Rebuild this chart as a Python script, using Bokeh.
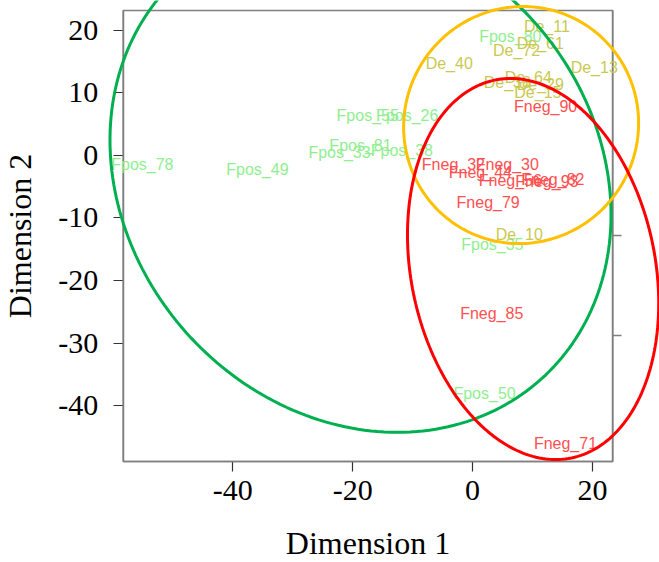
import numpy as np
from bokeh.plotting import figure
from bokeh.models import (Range1d, LinearAxis, FixedTicker, PolyAnnotation,
                          LabelSet, ColumnDataSource, BoxAnnotation)
from bokeh.core.properties import value
from bokeh.embed import file_html
from bokeh.resources import INLINE

# ---- data -----------------------------------------------------------------
fpos_labels = ["Fpos_78", "Fpos_49", "Fpos_33", "Fpos_81", "Fpos_38",
               "Fpos_55", "Fpos_26", "Fpos_80", "Fpos_35", "Fpos_50"]
fpos_x = [-55.1, -35.9, -22.2, -18.7, -11.8, -17.5, -10.9, 6.3, 3.3, 2.0]
fpos_y = [-1.4, -2.2, 0.4, 1.5, 0.85, 6.4, 6.4, 19.0, -14.3, -38.0]

de_labels = ["De_11", "De_61", "De_72", "De_40", "De_13",
             "De_38", "De_64", "De_29", "De_15", "De_10"]
de_x = [12.4, 11.3, 7.35, -3.9, 20.3, 5.8, 9.3, 11.3, 10.9, 7.8]
de_y = [20.6, 17.9, 16.7, 14.6, 14.1, 11.7, 12.5, 11.3, 10.0, -12.6]

fneg_labels = ["Fneg_90", "Fneg_32", "Fneg_30", "Fneg_44", "Fneg_56",
               "Fneg_93", "Fneg_82", "Fneg_79", "Fneg_85", "Fneg_71"]
fneg_x = [12.2, -3.2, 5.8, 1.3, 6.3, 12.4, 13.4, 2.6, 3.2, 15.5]
fneg_y = [7.8, -1.4, -1.4, -2.7, -4.0, -4.2, -3.8, -7.5, -25.2, -46.0]

# ellipse parameters: centre, conjugate semi-diameters (data units)
ell_fpos = dict(cx=-18.7, cy=-3.55, ux=-6.13, uy=40.69, vx=41.35, vy=0.0)
ell_de = dict(cx=8.10, cy=4.84, ux=0.33, uy=18.93, vx=19.6, vy=0.0)
ell_fneg = dict(cx=10.10, cy=-18.16, ux=-3.76, uy=30.43, vx=20.62, vy=0.0)

x_ticks = [-40, -20, 0, 20]
y_ticks = [-40, -30, -20, -10, 0, 10, 20]
right_ticks = [-12.8, -28.8]
x_lim = (-58.3, 23.4)      # plotting box (axes) limits
y_lim = (-48.9, 23.13)
x_view = (-78.77, 31.19)   # whole drawing area
y_view = (-65.03, 24.73)

# ---- styles ---------------------------------------------------------------
C_FPOS_TXT = "#90EE90"
C_DE_TXT = "#C9C94F"
C_FNEG_TXT = "#FF5050"
C_FPOS_ELL = "#00B050"
C_DE_ELL = "#FFC000"
C_FNEG_ELL = "#FF0000"
C_BOX = "#7f7f7f"
SERIF = "Liberation Serif"
SANS = "Liberation Sans"

p = figure(width=659, height=562, output_backend="svg", toolbar_location=None,
           x_range=Range1d(*x_view), y_range=Range1d(*y_view),
           x_axis_location=None, y_axis_location=None,
           min_border_left=0, min_border_right=0, min_border_top=0,
           min_border_bottom=0)
p.grid.visible = False
p.outline_line_color = None


def style_axis(ax, ticks, title):
    ax.ticker = FixedTicker(ticks=ticks)
    ax.major_label_overrides = {t: str(t) for t in ticks}
    ax.minor_tick_line_color = None
    ax.major_tick_out = 10
    ax.major_tick_in = 0
    ax.major_tick_line_color = "#333333"
    ax.major_tick_line_width = 1.2
    ax.axis_line_color = C_BOX
    ax.axis_line_width = 1.5
    ax.major_label_text_font = SERIF
    ax.major_label_text_font_size = "30px"
    ax.major_label_text_color = "black"
    ax.axis_label = title
    ax.axis_label_text_font = SERIF
    ax.axis_label_text_font_size = "32px"
    ax.axis_label_text_font_style = "normal"
    ax.axis_label_text_color = "black"


xa = LinearAxis(fixed_location=y_lim[0], bounds=x_lim)
style_axis(xa, x_ticks, "Dimension 1")
xa.major_label_standoff = 9
xa.axis_label_standoff = 22
p.add_layout(xa, "below")

ya = LinearAxis(fixed_location=x_lim[0], bounds=y_lim)
style_axis(ya, y_ticks, "Dimension 2")
ya.major_label_standoff = 15
ya.axis_label_standoff = 18
p.add_layout(ya, "left")

ra = LinearAxis(fixed_location=x_lim[1], bounds=y_lim,
                ticker=FixedTicker(ticks=right_ticks))
ra.minor_tick_line_color = None
ra.major_tick_out = 9
ra.major_tick_in = 0
ra.major_tick_line_color = C_BOX
ra.major_tick_line_width = 1.5
ra.axis_line_color = C_BOX
ra.axis_line_width = 1.5
ra.major_label_text_color = None
p.add_layout(ra, "right")

# plotting box
p.add_layout(BoxAnnotation(left=x_lim[0], right=x_lim[1], bottom=y_lim[0],
                           top=y_lim[1], fill_color=None, fill_alpha=0,
                           line_color=C_BOX, line_width=1.5, line_alpha=1))

# labels
all_labels = fpos_labels + de_labels + fneg_labels
all_x = fpos_x + de_x + fneg_x
all_y = fpos_y + de_y + fneg_y
all_c = ([C_FPOS_TXT] * len(fpos_labels) + [C_DE_TXT] * len(de_labels)
         + [C_FNEG_TXT] * len(fneg_labels))
src = ColumnDataSource(dict(x=all_x, y=all_y, text=all_labels, color=all_c))
labels = LabelSet(x="x", y="y", text="text", source=src, text_color="color",
                  text_align="center", text_baseline="middle",
                  text_font=value(SANS), text_font_size="16px")
p.add_layout(labels)

# ellipses
t = np.linspace(0, 2 * np.pi, 241)
for e, col in ((ell_fpos, C_FPOS_ELL), (ell_de, C_DE_ELL), (ell_fneg, C_FNEG_ELL)):
    xs = e["cx"] + e["ux"] * np.cos(t) + e["vx"] * np.sin(t)
    ys = e["cy"] + e["uy"] * np.cos(t) + e["vy"] * np.sin(t)
    p.add_layout(PolyAnnotation(xs=list(xs), ys=list(ys), fill_color=None,
                                fill_alpha=0, line_color=col, line_alpha=1,
                                line_width=3))

open("out.html", "w").write(file_html(p, INLINE))
